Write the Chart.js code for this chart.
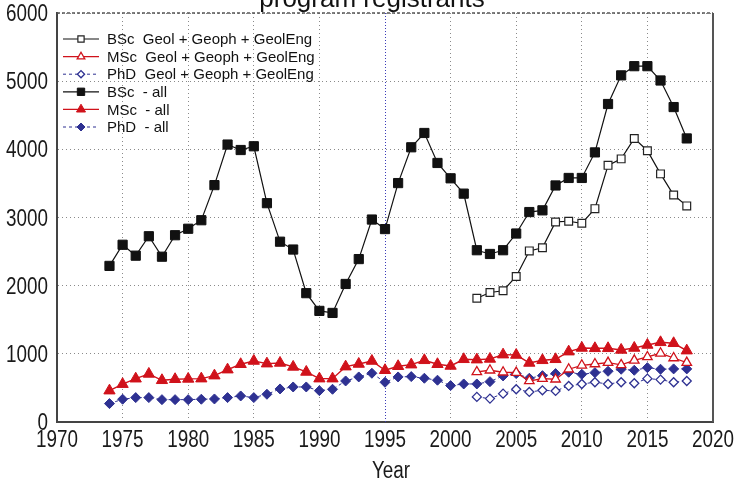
<!DOCTYPE html>
<html>
<head>
<meta charset="utf-8">
<script src="https://cdn.jsdelivr.net/npm/chart.js@4.4.1/dist/chart.umd.min.js"></script>
<style>
  html, body { margin: 0; padding: 0; background: #fff; }
  #wrap { width: 735px; height: 485px; }
</style>
</head>
<body>
<div id="wrap"><canvas id="registrants" width="735" height="485"></canvas></div>
<script>
// years covered by the "all" series and by the Geol + Geoph + GeolEng series
const yearsAll = [];
for (let y = 1974; y <= 2018; y++) yearsAll.push(y);
const yearsGeol = [];
for (let y = 2002; y <= 2018; y++) yearsGeol.push(y);

const bscAll = [2290, 2600, 2440, 2725, 2425, 2740, 2835, 2960, 3475, 4070,
    3990, 4045, 3210, 2645, 2530, 1890, 1630, 1600, 2025, 2390,
    2970, 2830, 3505, 4030, 4240, 3800, 3575, 3350, 2520, 2465,
    2520, 2765, 3080, 3105, 3470, 3580, 3580, 3955, 4665, 5085,
    5220, 5220, 5010, 4620, 4160];
const mscAll = [460, 555, 635, 705, 612, 627, 632, 636, 680, 768,
    847, 895, 856, 866, 808, 734, 636, 636, 812, 851,
    895, 759, 818, 841, 905, 847, 822, 920, 915, 925,
    988, 983, 866, 905, 920, 1032, 1086, 1081, 1081, 1057,
    1086, 1130, 1169, 1155, 1047];
const phdAll = [270, 334, 358, 358, 328, 328, 328, 334, 338, 358,
    382, 358, 407, 485, 514, 514, 460, 480, 602, 661,
    715, 583, 661, 666, 642, 613, 534, 558, 558, 592,
    676, 710, 642, 680, 710, 730, 700, 724, 744, 774,
    759, 797, 774, 779, 779];
const bscGeol = [1815, 1900, 1925, 2135, 2510, 2555, 2935, 2945, 2915, 3130,
    3765, 3860, 4160, 3980, 3640, 3330, 3170];
const mscGeol = [734, 759, 730, 724, 602, 636, 627, 774, 832, 851,
    871, 837, 905, 954, 1008, 939, 871];
const phdGeol = [368, 343, 416, 480, 441, 465, 456, 529, 558, 583,
    558, 583, 568, 636, 622, 583, 602];

const xTicks = [1970, 1975, 1980, 1985, 1990, 1995, 2000, 2005, 2010, 2015, 2020];
const yTicks = [0, 1000, 2000, 3000, 4000, 5000, 6000];

const seriesNames = [
    "BSc  Geol + Geoph + GeolEng",
    "MSc  Geol + Geoph + GeolEng",
    "PhD  Geol + Geoph + GeolEng",
    "BSc  - all",
    "MSc  - all",
    "PhD  - all"
];

const black = "#111111";
const red = "#d0121b";
const navy = "#2e3192";
const sans = "'Liberation Sans', Arial, sans-serif";

function pairs(xs, ys) {
    return xs.map((x, i) => ({ x: x, y: ys[i] }));
}

// no narrow font installed: squeeze the regular one horizontally
function narrowText(ctx, text, x, y, align) {
    ctx.save();
    ctx.translate(x, y);
    ctx.scale(0.82, 1);
    ctx.textAlign = align;
    ctx.fillText(text, 0, 0);
    ctx.restore();
}

// tick labels and axis title, placed from the chart's own scales
const axisText = {
    id: "axisText",
    afterDraw(chart) {
        const ctx = chart.ctx;
        const xs = chart.scales.x;
        const ys = chart.scales.y;
        ctx.save();
        ctx.font = "23px " + sans;
        ctx.fillStyle = "#1a1a1a";
        ctx.textBaseline = "alphabetic";
        xTicks.forEach(v => {
            narrowText(ctx, String(v), xs.getPixelForValue(v), 447, "center");
        });
        yTicks.forEach(v => {
            narrowText(ctx, String(v), 48, ys.getPixelForValue(v) + 8, "right");
        });
        narrowText(ctx, "Year", 391, 478, "center");
        ctx.restore();
    }
};

// title is cut off at the top of the picture, draw it by hand
const cutTitle = {
    id: "cutTitle",
    afterDraw(chart) {
        const ctx = chart.ctx;
        ctx.save();
        ctx.font = "26px " + sans;
        ctx.fillStyle = "#111";
        ctx.textAlign = "center";
        ctx.textBaseline = "alphabetic";
        ctx.fillText("program registrants", 372, 7);
        ctx.restore();
    }
};

// blue 1995 line, top and right frame
const frame = {
    id: "frame",
    beforeDatasetsDraw(chart) {
        const ctx = chart.ctx;
        const a = chart.chartArea;
        const x95 = chart.scales.x.getPixelForValue(1995);
        ctx.save();
        ctx.strokeStyle = "#3a3ab8";
        ctx.lineWidth = 1;
        ctx.setLineDash([1, 2]);
        ctx.beginPath();
        ctx.moveTo(Math.round(x95) + 0.5, a.top);
        ctx.lineTo(Math.round(x95) + 0.5, a.bottom);
        ctx.stroke();
        ctx.restore();
    },
    afterDraw(chart) {
        const ctx = chart.ctx;
        const a = chart.chartArea;
        ctx.save();
        ctx.strokeStyle = "#555";
        ctx.lineWidth = 1.5;
        ctx.setLineDash([3, 2]);
        ctx.beginPath();
        ctx.moveTo(a.left, a.top);
        ctx.lineTo(a.right, a.top);
        ctx.stroke();
        ctx.setLineDash([]);
        ctx.lineWidth = 2;
        ctx.beginPath();
        ctx.moveTo(a.right, a.top);
        ctx.lineTo(a.right, a.bottom);
        ctx.stroke();
        ctx.restore();
    }
};

// legend inside the plot, no box, line sample with marker in the middle
const insideLegend = {
    id: "insideLegend",
    afterDraw(chart) {
        const ctx = chart.ctx;
        ctx.save();
        ctx.font = "15px " + sans;
        ctx.textBaseline = "middle";
        ctx.fillStyle = "#111";
        chart.data.datasets.forEach((ds, i) => {
            const y = 39 + i * 17.6;
            ctx.save();
            ctx.strokeStyle = ds.borderColor;
            ctx.lineWidth = ds.borderWidth;
            ctx.setLineDash(ds.borderDash || []);
            ctx.beginPath();
            ctx.moveTo(63, y);
            ctx.lineTo(99, y);
            ctx.stroke();
            ctx.setLineDash([]);
            ctx.fillStyle = ds.pointBackgroundColor;
            ctx.strokeStyle = ds.pointBorderColor;
            ctx.lineWidth = ds.pointBorderWidth;
            Chart.helpers.drawPoint(ctx, {
                pointStyle: ds.pointStyle,
                radius: ds.pointRadius * 0.8,
                borderWidth: ds.pointBorderWidth,
                rotation: 0
            }, 81, y);
            ctx.restore();
            ctx.fillText(ds.label, 107, y + 1);
        });
        ctx.restore();
    }
};

var ctx = document.getElementById("registrants");
var chart = new Chart(ctx, {
    type: "line",
    data: {
        datasets: [{
            label: seriesNames[0],
            data: pairs(yearsGeol, bscGeol),
            borderColor: black,
            borderWidth: 1.2,
            pointStyle: "rect",
            pointRadius: 5.5,
            pointBackgroundColor: "#fff",
            pointBorderColor: "#222",
            pointBorderWidth: 1.2,
        }, {
            label: seriesNames[1],
            data: pairs(yearsGeol, mscGeol),
            borderColor: red,
            borderWidth: 1.3,
            pointStyle: "triangle",
            pointRadius: 5.5,
            pointBackgroundColor: "#fff",
            pointBorderColor: red,
            pointBorderWidth: 1.3,
        }, {
            label: seriesNames[2],
            data: pairs(yearsGeol, phdGeol),
            borderColor: navy,
            borderWidth: 1,
            borderDash: [3, 3],
            pointStyle: "rectRot",
            pointRadius: 4.5,
            pointBackgroundColor: "#fff",
            pointBorderColor: navy,
            pointBorderWidth: 1.3,
        }, {
            label: seriesNames[3],
            data: pairs(yearsAll, bscAll),
            borderColor: black,
            borderWidth: 1.2,
            pointStyle: "rect",
            pointRadius: 6.5,
            pointBackgroundColor: black,
            pointBorderColor: black,
            pointBorderWidth: 1,
        }, {
            label: seriesNames[4],
            data: pairs(yearsAll, mscAll),
            borderColor: red,
            borderWidth: 1.4,
            pointStyle: "triangle",
            pointRadius: 6.5,
            pointBackgroundColor: red,
            pointBorderColor: red,
            pointBorderWidth: 1,
        }, {
            label: seriesNames[5],
            data: pairs(yearsAll, phdAll),
            borderColor: navy,
            borderWidth: 1,
            borderDash: [3, 3],
            pointStyle: "rectRot",
            pointRadius: 5,
            pointBackgroundColor: navy,
            pointBorderColor: navy,
            pointBorderWidth: 1,
        }]
    },
    options: {
        responsive: false,
        animation: false,
        layout: {
            padding: { left: 0, right: 22, top: 13, bottom: 0 }
        },
        plugins: {
            legend: { display: false },
            title: { display: false },
            tooltip: { enabled: false }
        },
        elements: {
            line: { tension: 0 }
        },
        scales: {
            x: {
                type: "linear",
                min: 1970,
                max: 2020,
                afterFit(scale) { scale.height = 63; },
                afterBuildTicks(scale) {
                    scale.ticks = xTicks.map(v => ({ value: v }));
                },
                grid: {
                    drawTicks: false,
                    color: (c) => c.tick && c.tick.value === 1995 ? "transparent" : "#8a8a8a",
                    lineWidth: 1,
                },
                border: {
                    display: true,
                    color: "#444",
                    width: 2,
                    dash: [1, 3],
                },
                ticks: { display: false }
            },
            y: {
                min: 0,
                max: 6000,
                afterFit(scale) { scale.width = 57; },
                afterBuildTicks(scale) {
                    scale.ticks = yTicks.map(v => ({ value: v }));
                },
                grid: {
                    drawTicks: false,
                    color: "#8a8a8a",
                    lineWidth: 1,
                },
                border: {
                    display: true,
                    color: "#444",
                    width: 2,
                    dash: [1, 3],
                },
                ticks: { display: false }
            }
        }
    },
    plugins: [frame, insideLegend, cutTitle, axisText]
});
</script>
</body>
</html>
